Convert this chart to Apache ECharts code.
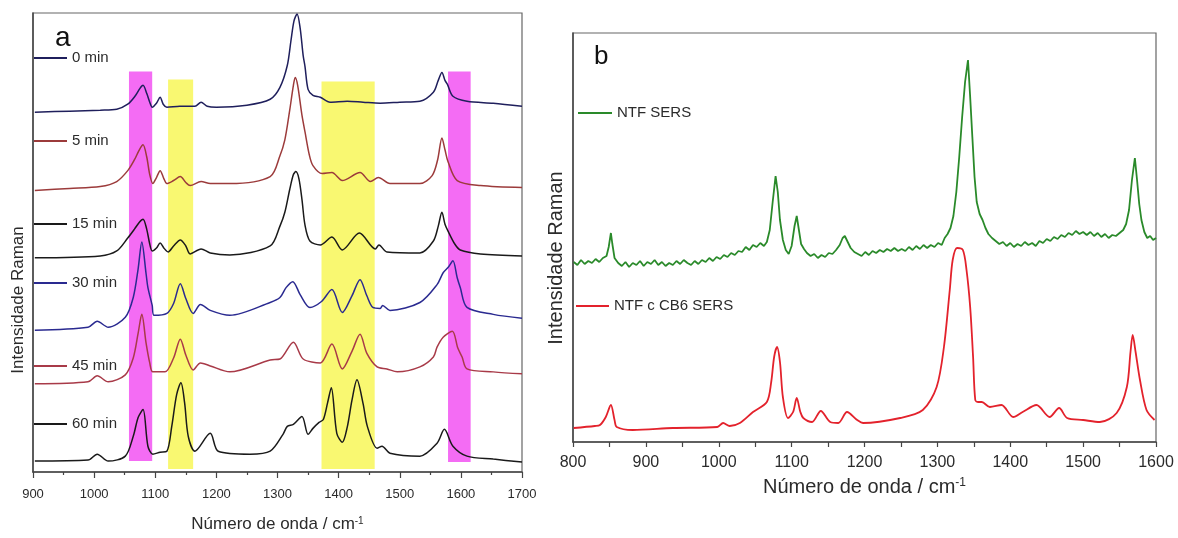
<!DOCTYPE html>
<html>
<head>
<meta charset="utf-8">
<script src="https://cdn.jsdelivr.net/npm/echarts@6/dist/echarts.min.js"></script>
<style>
  html, body { margin: 0; padding: 0; background: #fff; }
  #chart { width: 1178px; height: 538px; }
</style>
</head>
<body>
<div id="chart"></div>
<script>
// ---- Panel a: SERS spectra recorded over time (wavenumber, intensity) ----
const timeLabels = ['0 min', '5 min', '15 min', '30 min', '45 min', '60 min'];

const spec0 = [[903,363],[960,364],[1010,365],[1037,366],[1055,371],[1068,380],[1075,387],[1080,390],[1086,382],[1091,373],[1095,368],[1102,372],[1108,378],[1113,371],[1119,368],[1140,369],[1165,369],[1175,373],[1185,369],[1200,368],[1250,370],[1288,376],[1304,388],[1316,410],[1322,435],[1327,455],[1332,462],[1337,448],[1342,420],[1345,409],[1350,386],[1358,380],[1370,378],[1386,373],[1414,374],[1440,373],[1468,372],[1500,373],[1533,374],[1555,383],[1563,395],[1569,403],[1574,395],[1578,391],[1587,379],[1610,374],[1653,372],[1700,369]];

const spec5 = [[903,284],[960,286],[1010,288],[1037,293],[1055,304],[1066,315],[1074,325],[1080,330],[1086,318],[1091,300],[1096,291],[1102,297],[1108,304],[1114,296],[1119,291],[1130,294],[1141,298],[1150,292],[1157,289],[1175,293],[1190,291],[1222,291],[1288,298],[1304,319],[1312,335],[1320,365],[1326,390],[1329,398],[1333,390],[1340,360],[1345,343],[1352,320],[1358,309],[1373,301],[1389,302],[1406,294],[1435,302],[1452,293],[1465,297],[1484,291],[1533,291],[1553,299],[1562,315],[1569,337],[1574,325],[1579,313],[1594,294],[1632,289],[1700,287]];

const spec15 = [[903,216],[1010,218],[1037,223],[1055,236],[1066,245],[1074,252],[1080,255],[1086,245],[1091,230],[1095,223],[1102,226],[1108,231],[1114,226],[1121,222],[1130,228],[1141,234],[1150,228],[1157,220],[1175,225],[1190,221],[1222,219],[1288,228],[1304,248],[1312,262],[1320,285],[1326,300],[1330,303],[1335,296],[1340,275],[1345,249],[1353,233],[1370,229],[1389,237],[1406,224],[1434,241],[1460,225],[1466,229],[1479,222],[1533,221],[1555,233],[1563,248],[1569,262],[1574,250],[1579,243],[1590,230],[1599,224],[1632,220],[1700,218]];

const spec30 = [[903,143],[990,146],[1005,152],[1023,146],[1051,156],[1064,176],[1072,205],[1078,232],[1085,200],[1088,186],[1095,168],[1098,158],[1119,160],[1130,170],[1141,190],[1150,175],[1162,160],[1174,169],[1190,163],[1222,158],[1288,171],[1304,176],[1314,186],[1325,192],[1337,179],[1353,166],[1372,172],[1389,184],[1406,161],[1422,178],[1435,194],[1446,178],[1456,166],[1468,165],[1472,168],[1484,163],[1533,171],[1561,189],[1571,201],[1580,207],[1587,213],[1594,196],[1599,186],[1610,166],[1653,159],[1700,155]];

const spec45 = [[903,89],[990,91],[1005,97],[1023,91],[1051,98],[1064,115],[1072,140],[1078,159],[1085,130],[1091,110],[1096,101],[1116,101],[1130,115],[1141,134],[1150,118],[1162,103],[1174,110],[1190,107],[1222,101],[1288,113],[1304,114],[1326,131],[1342,114],[1370,110],[1389,129],[1406,104],[1422,122],[1435,139],[1446,120],[1463,106],[1479,104],[1496,101],[1533,106],[1555,116],[1561,126],[1571,136],[1586,142],[1595,125],[1602,116],[1610,104],[1653,101],[1700,99]];

const spec60 = [[903,11],[990,12],[1005,18],[1023,11],[1051,16],[1064,36],[1072,55],[1080,63],[1088,26],[1096,18],[1108,20],[1119,21],[1127,46],[1135,78],[1142,90],[1148,70],[1154,36],[1165,21],[1190,39],[1203,21],[1255,18],[1288,21],[1309,38],[1316,46],[1326,48],[1340,56],[1350,38],[1358,44],[1368,50],[1375,53],[1382,70],[1388,85],[1397,39],[1406,30],[1414,45],[1422,73],[1430,93],[1440,69],[1447,46],[1463,24],[1471,26],[1484,19],[1533,16],[1561,29],[1573,43],[1587,26],[1610,16],[1653,13],[1700,10]];

const specA = [spec0, spec5, spec15, spec30, spec45, spec60];
const colorsA = ['#1f1f5c', '#9c3b3b', '#1a1a1a', '#2a2a90', '#a83a48', '#1a1a1a'];
const legendYA = [57, 140, 223, 282, 365, 423];

// highlighted bands: [from, to, lower, upper, colour]
const bandsA = [
  [1057, 1095, 11, 404, '#f46cf4'],
  [1121, 1162, 3, 396, '#f9f871'],
  [1372, 1459, 3, 394, '#f9f871'],
  [1579, 1616, 10, 404, '#f46cf4']
];

// ---- Panel b: NTF with and without CB6 ----
const seriesNamesB = ['NTF SERS', 'NTF c CB6 SERS'];

const ntf = [[801,180],[806,177],[811,182],[816,178],[821,181],[826,179],[831,183],[836,180],[841,184],[846,186],[849,195],[852,209],[854,198],[857,184],[862,179],[867,176],[872,180],[877,175],[882,179],[887,177],[892,181],[897,176],[902,180],[907,178],[912,182],[917,177],[922,180],[927,176],[932,179],[937,177],[942,181],[947,178],[952,182],[957,179],[962,177],[967,181],[972,178],[977,182],[982,180],[987,184],[992,181],[997,185],[1002,183],[1007,187],[1012,185],[1017,189],[1022,187],[1027,191],[1032,190],[1037,195],[1042,192],[1047,197],[1052,195],[1057,199],[1062,196],[1066,200],[1070,212],[1074,240],[1078,266],[1081,250],[1084,222],[1088,202],[1092,192],[1096,188],[1100,196],[1104,216],[1107,226],[1110,212],[1113,198],[1117,193],[1121,189],[1126,186],[1131,188],[1136,184],[1141,187],[1146,185],[1151,189],[1156,188],[1161,192],[1166,197],[1170,204],[1173,206],[1177,200],[1181,194],[1186,190],[1191,188],[1196,186],[1201,190],[1206,187],[1211,191],[1216,189],[1221,192],[1226,190],[1231,193],[1236,191],[1241,194],[1246,191],[1251,193],[1256,191],[1261,195],[1266,192],[1271,196],[1276,193],[1281,197],[1286,194],[1291,197],[1296,195],[1301,199],[1306,197],[1310,204],[1314,208],[1318,214],[1322,226],[1326,250],[1330,285],[1334,325],[1338,360],[1342,382],[1345,345],[1348,305],[1351,265],[1354,240],[1358,228],[1362,222],[1366,214],[1370,208],[1375,204],[1380,201],[1385,198],[1390,200],[1395,196],[1400,199],[1405,195],[1410,198],[1415,196],[1420,200],[1425,197],[1430,199],[1435,196],[1440,201],[1445,199],[1450,203],[1455,201],[1460,205],[1465,203],[1470,207],[1475,205],[1480,209],[1485,207],[1490,211],[1495,208],[1500,210],[1505,207],[1510,210],[1515,206],[1520,209],[1525,205],[1530,208],[1535,204],[1540,207],[1545,206],[1550,209],[1555,212],[1559,218],[1563,232],[1567,262],[1571,284],[1574,262],[1577,238],[1580,222],[1584,210],[1588,204],[1592,206],[1596,202],[1600,204]];

const ntfCB6 = [[801,14],[830,16],[837,17],[845,25],[852,37],[857,22],[860,15],[882,12],[937,14],[998,15],[1006,19],[1015,16],[1029,19],[1047,30],[1066,40],[1072,60],[1076,85],[1080,95],[1084,80],[1088,45],[1095,24],[1102,30],[1107,44],[1112,30],[1116,24],[1128,20],[1140,31],[1153,20],[1164,19],[1176,30],[1190,22],[1198,19],[1249,24],[1280,32],[1299,55],[1309,95],[1317,152],[1321,182],[1327,194],[1335,192],[1340,172],[1345,135],[1349,85],[1352,42],[1356,40],[1361,40],[1372,35],[1388,37],[1404,25],[1417,30],[1436,37],[1454,25],[1467,34],[1478,24],[1500,22],[1523,20],[1546,29],[1560,55],[1565,90],[1568,107],[1572,90],[1578,62],[1587,32],[1598,22]];

const colorsB = ['#2a8a2a', '#e3222c'];
const legendYB = [112, 305];

const FONT = '"Liberation Sans", Arial, sans-serif';
const TXT = '#2b2b2b';

const chart = echarts.init(document.getElementById('chart'), null, { renderer: 'canvas' });

function xTitle(size, supSize) {
  return {
    name: '{t|Número de onda / cm}{s|-1}',
    nameLocation: 'middle',
    nameTextStyle: {
      rich: {
        t: { fontSize: size, color: TXT, fontFamily: FONT },
        s: { fontSize: supSize, color: TXT, fontFamily: FONT, verticalAlign: 'top' }
      }
    }
  };
}

const series = [];

// bands drawn first so the spectra sit on top of them
series.push({
  name: 'bands',
  type: 'line',
  xAxisIndex: 0, yAxisIndex: 0,
  data: [],
  silent: true,
  markArea: {
    silent: true,
    data: bandsA.map(b => [
      { xAxis: b[0], yAxis: b[2], itemStyle: { color: b[4], opacity: 1 } },
      { xAxis: b[1], yAxis: b[3] }
    ])
  }
});

specA.forEach((d, i) => {
  series.push({
    name: timeLabels[i],
    type: 'line',
    xAxisIndex: 0, yAxisIndex: 0,
    data: d,
    symbol: 'none',
    smooth: 0.3,
    lineStyle: { color: colorsA[i], width: 1.5 },
    itemStyle: { color: colorsA[i] },
    z: 3
  });
});

[ntf, ntfCB6].forEach((d, i) => {
  series.push({
    name: seriesNamesB[i],
    type: 'line',
    xAxisIndex: 1, yAxisIndex: 1,
    data: d,
    symbol: 'none',
    smooth: i === 0 ? false : 0.3,
    lineStyle: { color: colorsB[i], width: 1.8 },
    itemStyle: { color: colorsB[i] },
    z: 3
  });
});

const legends = [];
timeLabels.forEach((name, i) => {
  legends.push({
    data: [name],
    left: 34, top: legendYA[i] - 8, padding: 0,
    itemWidth: 33, itemHeight: 2, icon: 'rect',
    selectedMode: false,
    textStyle: { fontSize: 15, color: TXT, fontFamily: FONT, lineHeight: 18 }
  });
});
seriesNamesB.forEach((name, i) => {
  legends.push({
    data: [name],
    left: i === 0 ? 578 : 576, top: legendYB[i] - 8, padding: 0,
    itemWidth: i === 0 ? 34 : 33, itemHeight: 2, icon: 'rect',
    selectedMode: false,
    textStyle: { fontSize: 15, color: TXT, fontFamily: FONT, lineHeight: 18 }
  });
});

const plainNumber = v => String(v);

const option = {
  backgroundColor: '#ffffff',
  animation: false,
  grid: [
    { left: 33, top: 13, width: 489, height: 463, show: true, borderColor: '#666', borderWidth: 1.2 },
    { left: 573, top: 33, width: 583, height: 409, show: true, borderColor: '#666', borderWidth: 1.2 }
  ],
  xAxis: [
    Object.assign({
      gridIndex: 0, type: 'value', min: 900, max: 1700, interval: 100,
      nameGap: 44,
      axisLine: { show: true, lineStyle: { color: '#444', width: 1.5 } },
      axisTick: { show: true, length: 6, lineStyle: { color: '#444', width: 1.2 } },
      minorTick: { show: true, splitNumber: 2, length: 3, lineStyle: { color: '#444', width: 1.2 } },
      splitLine: { show: false },
      axisLabel: { fontSize: 13, color: TXT, fontFamily: FONT, margin: 16, formatter: plainNumber }
    }, xTitle(17, 10)),
    Object.assign({
      gridIndex: 1, type: 'value', min: 800, max: 1600, interval: 100,
      nameGap: 35,
      axisLine: { show: true, lineStyle: { color: '#444', width: 1.5 } },
      axisTick: { show: true, length: 5, lineStyle: { color: '#444', width: 1.2 } },
      minorTick: { show: true, splitNumber: 2, length: 5, lineStyle: { color: '#444', width: 1.2 } },
      splitLine: { show: false },
      axisLabel: { fontSize: 16, color: TXT, fontFamily: FONT, margin: 13, formatter: plainNumber }
    }, xTitle(20, 12))
  ],
  yAxis: [
    {
      gridIndex: 0, type: 'value', min: 0, max: 463,
      axisLine: { show: true, lineStyle: { color: '#444', width: 1.5 } },
      axisTick: { show: false }, axisLabel: { show: false }, splitLine: { show: false }
    },
    {
      gridIndex: 1, type: 'value', min: 0, max: 409,
      axisLine: { show: true, lineStyle: { color: '#444', width: 1.5 } },
      axisTick: { show: false }, axisLabel: { show: false }, splitLine: { show: false }
    }
  ],
  legend: legends,
  graphic: [
    { type: 'text', left: 55, top: 24, style: { text: 'a', fontSize: 28, fill: '#111', fontFamily: FONT } },
    { type: 'text', left: 594, top: 44, style: { text: 'b', fontSize: 26, fill: '#111', fontFamily: FONT } },
    { type: 'text', x: 18, y: 300, rotation: Math.PI / 2,
      style: { text: 'Intensidade Raman', fontSize: 17, fill: TXT, fontFamily: FONT, align: 'center', verticalAlign: 'middle' } },
    { type: 'text', x: 556, y: 258, rotation: Math.PI / 2,
      style: { text: 'Intensidade Raman', fontSize: 20, fill: TXT, fontFamily: FONT, align: 'center', verticalAlign: 'middle' } }
  ],
  series: series
};

chart.setOption(option);
</script>
</body>
</html>
